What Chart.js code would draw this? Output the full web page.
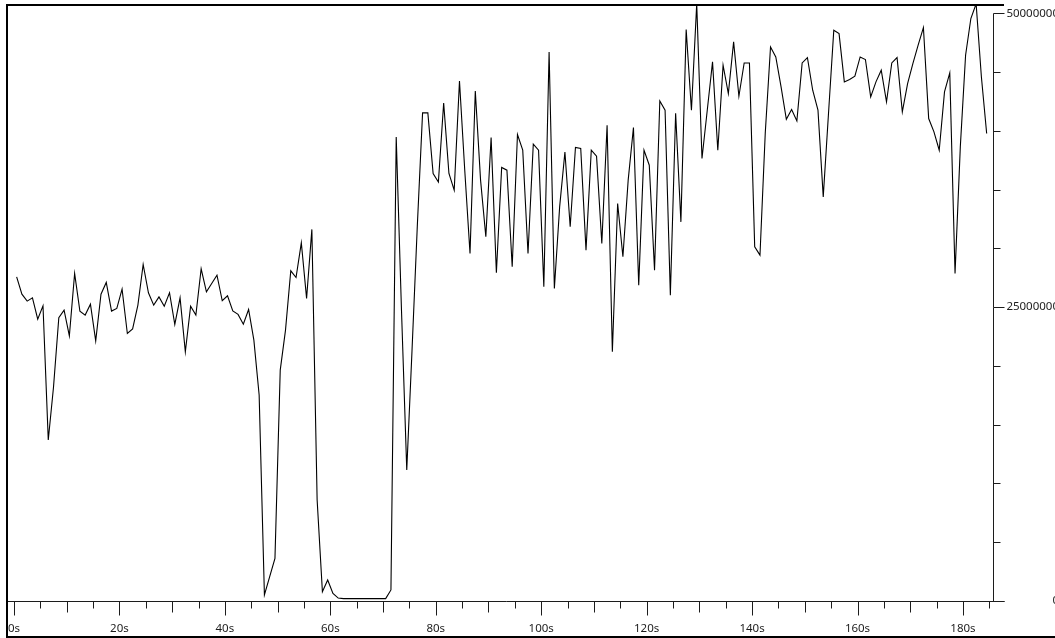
<!DOCTYPE html>
<html>
<head>
<meta charset="utf-8">
<title>Throughput</title>
<script src="https://cdn.jsdelivr.net/npm/chart.js@4.4.1/dist/chart.umd.min.js"></script>
<style>
  html, body { margin: 0; padding: 0; background: #fff; }
  canvas { display: block; }
</style>
</head>
<body>
<canvas id="chart" width="1055" height="638"></canvas>
<script>
// Throughput, one sample per second (bytes)
const throughput = [
  27.58e6, 26.10e6, 25.51e6, 25.79e6, 23.98e6, 25.11e6, 13.69e6, 18.22e6, 24.09e6, 24.74e6,
  22.56e6, 27.86e6, 24.66e6, 24.32e6, 25.25e6, 22.13e6, 26.10e6, 27.10e6, 24.66e6, 24.89e6,
  26.53e6, 22.76e6, 23.15e6, 25.17e6, 28.63e6, 26.22e6, 25.17e6, 25.87e6, 25.08e6, 26.22e6,
  23.53e6, 25.79e6, 21.20e6, 25.08e6, 24.32e6, 28.26e6, 26.30e6, 27.01e6, 27.72e6, 25.54e6,
  25.96e6, 24.68e6, 24.38e6, 23.55e6, 24.80e6, 22.19e6, 17.52e6, 0.51e6, 2.07e6, 3.63e6,
  19.64e6, 23.04e6, 28.09e6, 27.52e6, 30.47e6, 25.74e6, 31.61e6, 8.59e6, 0.79e6, 1.79e6,
  0.65e6, 0.25e6, 0.20e6, 0.20e6, 0.20e6, 0.20e6, 0.20e6, 0.20e6, 0.20e6, 0.20e6,
  0.20e6, 0.94e6, 39.48e6, 24.74e6, 11.14e6, 21.34e6, 31.89e6, 41.52e6, 41.52e6, 36.37e6,
  35.65e6, 42.37e6, 36.37e6, 34.95e6, 44.24e6, 36.65e6, 29.56e6, 43.39e6, 35.80e6, 30.98e6,
  39.43e6, 27.92e6, 36.88e6, 36.65e6, 28.43e6, 39.68e6, 38.35e6, 29.56e6, 38.86e6, 38.35e6,
  26.73e6, 46.71e6, 26.59e6, 33.53e6, 38.20e6, 31.83e6, 38.58e6, 38.49e6, 29.85e6, 38.35e6,
  37.84e6, 30.42e6, 40.47e6, 21.20e6, 33.82e6, 29.28e6, 35.80e6, 40.28e6, 26.87e6, 38.35e6,
  37.07e6, 28.14e6, 42.54e6, 41.75e6, 26.02e6, 41.49e6, 32.25e6, 48.61e6, 41.75e6, 50.80e6,
  37.64e6, 41.75e6, 45.86e6, 38.35e6, 45.58e6, 43.17e6, 47.56e6, 42.94e6, 45.77e6, 45.77e6,
  30.13e6, 29.42e6, 39.79e6, 47.13e6, 46.28e6, 43.73e6, 40.98e6, 41.81e6, 40.84e6, 45.77e6,
  46.23e6, 43.45e6, 41.75e6, 34.38e6, 41.49e6, 48.55e6, 48.27e6, 44.16e6, 44.36e6, 44.64e6,
  46.28e6, 46.06e6, 42.88e6, 44.16e6, 45.15e6, 42.46e6, 45.77e6, 46.23e6, 41.61e6, 44.02e6,
  45.72e6, 47.28e6, 48.78e6, 41.04e6, 39.91e6, 38.35e6, 43.31e6, 44.92e6, 27.86e6, 38.63e6,
  46.43e6, 49.55e6, 50.80e6, 44.58e6, 39.77e6
];

// Each sample sits in the middle of its one-second slot
const sampleSeconds = throughput.map((_, i) => i + 0.5);

// Time axis: labelled ticks and minor tick spacing (seconds)
const xTickSeconds = [0, 20, 40, 60, 80, 100, 120, 140, 160, 180];
const xTickLabels = ['0s', '20s', '40s', '60s', '80s', '100s', '120s', '140s', '160s', '180s'];
const xMinorStep = 5;
const xMaxSeconds = 185.7;

// Value axis (right side): labelled ticks and minor tick spacing
const yTickValues = [0, 25000000, 50000000];
const yTickLabels = ['0', '25000000', '50000000'];
const yMinorStep = 5000000;
const yMax = 50.7e6;

const FONT = '11.5px "Noto Sans", "Liberation Sans", sans-serif';
const INK = '#1c1c1c';

// Axes, tick marks, labels and the outer frame, all placed through the chart scales
const frameAxes = {
  id: 'frameAxes',
  afterDraw(chart) {
    const { ctx, scales: { x, y } } = chart;
    const baseY = Math.round(y.getPixelForValue(0)) + 0.5;
    const axisX = Math.round(x.getPixelForValue(xMaxSeconds)) + 0.5;
    const topY = Math.round(y.getPixelForValue(50000000)) + 0.5;

    ctx.save();
    ctx.strokeStyle = INK;
    ctx.lineWidth = 1;

    // horizontal time axis
    ctx.beginPath();
    ctx.moveTo(8, baseY);
    ctx.lineTo(axisX + 11, baseY);
    ctx.stroke();

    // vertical value axis on the right
    ctx.beginPath();
    ctx.moveTo(axisX, topY);
    ctx.lineTo(axisX, baseY);
    ctx.stroke();

    // time ticks
    ctx.beginPath();
    for (let s = 0; s <= xMaxSeconds; s += xMinorStep) {
      const px = Math.round(x.getPixelForValue(s)) + 0.5;
      const len = s % 20 === 0 ? 14 : (s % 10 === 0 ? 11 : 7);
      ctx.moveTo(px, baseY);
      ctx.lineTo(px, baseY + len);
    }
    ctx.stroke();

    // value ticks
    ctx.beginPath();
    for (let v = 0; v <= 50000000; v += yMinorStep) {
      const py = Math.round(y.getPixelForValue(v)) + 0.5;
      const len = yTickValues.includes(v) ? 11 : 7;
      ctx.moveTo(axisX, py);
      ctx.lineTo(axisX + len, py);
    }
    ctx.stroke();

    // labels
    ctx.fillStyle = INK;
    ctx.font = FONT;
    ctx.textBaseline = 'middle';
    ctx.textAlign = 'center';
    xTickSeconds.forEach((s, i) => {
      ctx.fillText(xTickLabels[i], x.getPixelForValue(s), 629);
    });
    ctx.textAlign = 'right';
    yTickValues.forEach((v, i) => {
      ctx.fillText(yTickLabels[i], 1059, y.getPixelForValue(v));
    });

    // outer frame: left, top and bottom edges
    ctx.fillStyle = '#000';
    ctx.fillRect(6, 4, 2, 634);
    ctx.fillRect(6, 4, 998, 2);
    ctx.fillRect(6, 636, 1049, 2);
    ctx.restore();
  }
};

new Chart(document.getElementById('chart'), {
  type: 'line',
  data: {
    datasets: [{
      data: sampleSeconds.map((s, i) => ({ x: s, y: throughput[i] })),
      borderColor: '#000',
      borderWidth: 1.1,
      pointRadius: 0,
      tension: 0,
      fill: false
    }]
  },
  options: {
    responsive: false,
    animation: false,
    devicePixelRatio: 1,
    layout: { padding: { left: 14, right: 62, top: 5, bottom: 37 } },
    plugins: { legend: { display: false }, tooltip: { enabled: false } },
    scales: {
      x: { type: 'linear', min: 0, max: xMaxSeconds, display: false },
      y: { type: 'linear', min: 0, max: yMax, display: false }
    }
  },
  plugins: [frameAxes]
});
</script>
</body>
</html>
